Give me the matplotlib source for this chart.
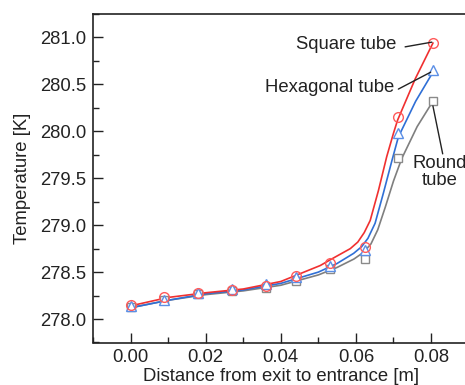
import matplotlib.pyplot as plt

fontsize = 13.3
plt.rcParams.update({
    'font.family': ['Liberation Sans', 'DejaVu Sans'],
    'font.size': fontsize,
    'text.color': '#222222',
    'axes.labelcolor': '#222222',
    'xtick.color': '#222222',
    'ytick.color': '#222222',
})

# marker positions (m) and measured temperatures (K)
x_pts = [0.0, 0.009, 0.018, 0.027, 0.036, 0.044, 0.053, 0.0625, 0.0713, 0.0805]
t_square = [278.15, 278.24, 278.28, 278.31, 278.35, 278.46, 278.60, 278.77, 280.15, 280.94]
t_hex = [278.14, 278.20, 278.28, 278.32, 278.37, 278.45, 278.57, 278.74, 279.98, 280.65]
t_round = [278.13, 278.20, 278.27, 278.30, 278.33, 278.40, 278.53, 278.64, 279.72, 280.32]

# smooth fitted curves
xf_square = [0.0, 0.01, 0.02, 0.03, 0.04, 0.0505, 0.054, 0.0585, 0.0605, 0.0622,
             0.0638, 0.066, 0.0682, 0.070, 0.0711, 0.0758, 0.0805]
tf_square = [278.14, 278.23, 278.28, 278.32, 278.40, 278.57, 278.65, 278.75, 278.82,
             278.92, 279.05, 279.37, 279.73, 279.98, 280.12, 280.56, 280.94]
xf_hex = [0.0, 0.01, 0.02, 0.03, 0.04, 0.05, 0.0549, 0.0594, 0.0615, 0.0632,
          0.0651, 0.0673, 0.0696, 0.0713, 0.0759, 0.0805]
tf_hex = [278.12, 278.20, 278.27, 278.31, 278.38, 278.50, 278.59, 278.70, 278.77,
          278.86, 279.02, 279.34, 279.69, 279.94, 280.32, 280.63]
xf_round = [0.0, 0.01, 0.02, 0.03, 0.04, 0.05, 0.055, 0.0595, 0.062, 0.064,
            0.0658, 0.0678, 0.070, 0.0722, 0.0763, 0.0805]
tf_round = [278.12, 278.20, 278.26, 278.30, 278.36, 278.47, 278.55, 278.64, 278.71,
            278.80, 278.95, 279.19, 279.47, 279.71, 280.05, 280.32]

fig = plt.figure(figsize=(4.65, 3.85), dpi=100)
ax = fig.add_axes([93 / 465, 42.5 / 385, (468.6 - 93) / 465, (342.5 - 14) / 385])

ax.plot(xf_round, tf_round, color='#7f7f7f', lw=1.2)
ax.plot(xf_hex, tf_hex, color='#2f6fd6', lw=1.2)
ax.plot(xf_square, tf_square, color='#f03030', lw=1.2)

ax.plot(x_pts, t_round, ls='none', marker='s', ms=6, mfc='white', mec='#8a8a8a', mew=1)
ax.plot(x_pts, t_hex, ls='none', marker='^', ms=7, mfc='white', mec='#5b8fe6', mew=1)
ax.plot(x_pts, t_square, ls='none', marker='o', ms=7, mfc='none', mec='#ff5a5a', mew=1)

# labels with leader lines
lp = dict(arrowstyle='-', color='#222222', lw=1, shrinkA=0, shrinkB=0)
ax.text(0.0709, 280.93, 'Square tube', ha='right', va='center')
ax.annotate('', xy=(0.0802, 280.95), xytext=(0.0731, 280.90), arrowprops=lp)
ax.text(0.0703, 280.47, 'Hexagonal tube', ha='right', va='center')
ax.annotate('', xy=(0.0799, 280.63), xytext=(0.0713, 280.45), arrowprops=lp)
ax.text(0.0822, 279.57, 'Round\ntube', ha='center', va='center',
        multialignment='center', linespacing=1.0, clip_on=False)
ax.annotate('', xy=(0.0805, 280.27), xytext=(0.0831, 279.76), arrowprops=lp)

ax.set_xlim(-0.01, 0.09)
ax.set_ylim(277.75, 281.25)
ax.set_xticks([0.0, 0.02, 0.04, 0.06, 0.08])
ax.set_xticks([-0.01, 0.01, 0.03, 0.05, 0.07, 0.09], minor=True)
ax.set_yticks([278.0, 278.5, 279.0, 279.5, 280.0, 280.5, 281.0])
ax.set_yticks([277.75, 278.25, 278.75, 279.25, 279.75, 280.25, 280.75, 281.25], minor=True)
ax.set_xticklabels(['0.00', '0.02', '0.04', '0.06', '0.08'])
ax.set_yticklabels(['278.0', '278.5', '279.0', '279.5', '280.0', '280.5', '281.0'])
ax.tick_params(which='both', direction='in', width=1, color='#222222')
ax.tick_params(which='major', length=7)
ax.tick_params(which='minor', length=4)
ax.tick_params(axis='x', pad=5)
ax.tick_params(axis='y', pad=5)
for s in ax.spines.values():
    s.set_linewidth(1.2)
    s.set_color('#222222')

ax.set_xlabel('Distance from exit to entrance [m]', labelpad=1)
ax.set_ylabel('Temperature [K]', labelpad=6)

fig.savefig('out.png', dpi=100)
